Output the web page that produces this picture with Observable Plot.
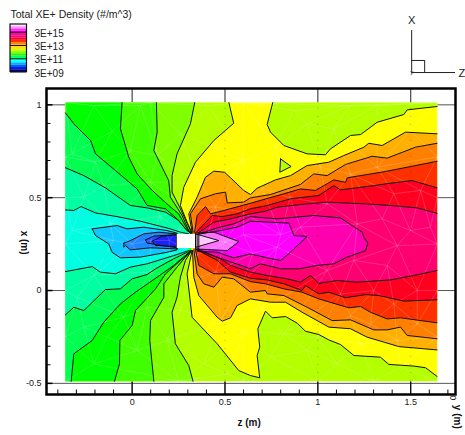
<!DOCTYPE html>
<html><head><meta charset="utf-8">
<script src="https://cdn.jsdelivr.net/npm/d3@7"></script>
<script src="https://cdn.jsdelivr.net/npm/@observablehq/plot@0.6"></script>
<style>html,body{margin:0;padding:0;background:#fff}#c{position:relative;width:465px;height:435px;overflow:hidden}#c svg{position:absolute;left:0;top:0;background:transparent}</style>
</head><body><div id="c"></div>
<script>
// domain of the computed field (z, x in metres)
const zMin=-0.359,zMax=1.643,xMin=-0.489,xMax=1.012;
const TL=[zMin,xMax],TR=[zMax,xMax],BR=[zMax,xMin],BL=[zMin,xMin];
const majorZ=[0,0.5,1,1.5],majorX=[-0.5,0,0.5,1];
const minorZ=[-0.4,-0.3,-0.2,-0.1,0.1,0.2,0.3,0.4,0.6,0.7,0.8,0.9,1.1,1.2,1.3,1.4,1.6,1.7];
const minorX=[-0.4,-0.3,-0.2,-0.1,0.1,0.2,0.3,0.4,0.6,0.7,0.8,0.9];
// contour lines: upper-left fan
const U1=[[-.359,.434],[-.314,.431],[-.275,.452],[-.197,.418],[-.081,.398],[.045,.373],[.206,.332],[.260,.314],[.305,.305]];
const U2=[[-.359,.661],[-.260,.619],[-.144,.553],[-.009,.458],[.081,.445],[.180,.422],[.251,.377],[.287,.332],[.314,.309]];
const U3=[[-.359,.957],[-.314,.898],[-.224,.808],[-.197,.736],[-.090,.646],[.027,.547],[.081,.458],[.180,.440],[.242,.386],[.296,.323],[.314,.309]];
const U4=[[-.054,1.012],[-.063,.871],[-.018,.718],[.027,.628],[.108,.539],[.197,.458],[.251,.413],[.296,.332],[.318,.309]];
const U5=[[.131,1.012],[.135,.853],[.117,.754],[.197,.592],[.206,.503],[.269,.404],[.305,.323],[.320,.309]];
const U6=[[.337,1.012],[.314,.898],[.242,.736],[.215,.619],[.215,.530],[.260,.440],[.314,.323],[.321,.309]];
const U7=[[.521,1.012],[.547,.901],[.440,.808],[.341,.691],[.278,.556],[.260,.458],[.296,.368],[.323,.309]];
// lower-left fan, bottom/left edge towards the centre
const L1=[[-.359,.102],[-.215,.129],[-.171,.099],[-.090,.090],[-.009,.126],[.081,.144],[.224,.188],[.278,.206],[.305,.215]];
const L2=[[-.359,-.131],[-.314,-.090],[-.260,-.108],[-.144,.005],[-.063,.009],[0,.063],[.081,.086],[.126,.117],[.224,.171],[.296,.206]];
const L3=[[-.328,-.489],[-.314,-.341],[-.215,-.269],[-.153,-.171],[-.063,-.072],[.018,-.009],[.135,.072],[.224,.135],[.296,.197],[.311,.215]];
const L4=[[-.095,-.489],[-.068,-.395],[-.066,-.269],[0,-.188],[.018,-.108],[.126,.009],[.180,.090],[.260,.162],[.305,.197],[.314,.215]];
const L5=[[.117,-.489],[.095,-.269],[.099,-.162],[.171,-.036],[.171,.036],[.242,.126],[.287,.180],[.318,.215]];
const L6=[[.328,-.489],[.305,-.404],[.233,-.287],[.215,-.117],[.242,-.036],[.260,.072],[.287,.162],[.320,.215]];
// lime/yellow boundary below centre, running out to the right edge
const L7=[[.323,.215],[.296,.090],[.323,-.144],[.458,-.287],[.574,-.431],[.637,-.458],[.687,-.470],[.673,-.350],[.687,-.305],[.677,-.206],[.718,-.111],[.754,-.147],[.826,-.140],[.889,-.176],[.933,-.219],[1.005,-.237],[1.059,-.266],[1.122,-.291],[1.194,-.350],[1.337,-.359],[1.382,-.398],[1.517,-.407],[1.580,-.416],[1.642,-.463]];
const limeNE=[[.757,1.012],[.727,.894],[.745,.853],[.817,.781],[.942,.736],[1.041,.731],[1.068,.763],[1.176,.835],[1.230,.840],[1.319,.906],[1.463,.948],[1.481,.973],[1.642,.991]];
const limeIsland=[[.799,.709],[.856,.668],[.795,.637],[.799,.709]];
// right side, centre to right edge
const A8u=[[.323,.314],[.305,.413],[.350,.503],[.395,.610],[.440,.643],[.497,.637],[.530,.607],[.601,.539],[.637,.517],[.673,.551],[.772,.596],[.853,.619],[.942,.673],[1.059,.691],[1.140,.727],[1.248,.772],[1.274,.793],[1.346,.781],[1.472,.853],[1.642,.844]];
const A8l=[[.325,.215],[.332,.072],[.359,-.027],[.458,-.144],[.485,-.165],[.530,-.147],[.565,-.081],[.637,-.045],[.745,-.063],[.826,-.063],[.915,-.117],[1.059,-.197],[1.176,-.206],[1.265,-.251],[1.436,-.302],[1.642,-.320]];
const A9u=[[.328,.314],[.314,.413],[.368,.494],[.449,.521],[.503,.530],[.512,.472],[.601,.476],[.637,.499],[.745,.517],[.906,.571],[.978,.628],[1.050,.619],[1.149,.679],[1.292,.723],[1.373,.713],[1.526,.772],[1.642,.793]];
const A9l=[[.332,.219],[.350,.090],[.386,.036],[.440,.018],[.485,.072],[.547,.063],[.637,-.009],[.718,0],[.727,-.018],[.817,-.027],[.942,-.090],[1.077,-.162],[1.176,-.158],[1.301,-.212],[1.373,-.212],[1.445,-.197],[1.481,-.242],[1.642,-.260]];
const A10u=[[.336,.314],[.350,.404],[.395,.452],[.422,.413],[.494,.431],[.637,.470],[.817,.521],[.906,.547],[.987,.539],[1.086,.596],[1.149,.583],[1.158,.607],[1.364,.641],[1.642,.696]];
const A10l=[[.341,.221],[.359,.135],[.440,.090],[.530,.090],[.637,.048],[.718,.036],[.817,.009],[.915,-.009],[1.005,-.045],[1.167,-.093],[1.230,-.086],[1.283,-.117],[1.373,-.153],[1.445,-.147],[1.642,-.174]];
const A11u=[[.346,.314],[.431,.404],[.485,.398],[.565,.413],[.637,.440],[.727,.458],[.853,.494],[1.005,.512],[1.086,.565],[1.122,.542],[1.301,.565],[1.391,.578],[1.508,.592],[1.642,.553]];
const A11l=[[.346,.221],[.458,.162],[.530,.099],[.637,.066],[.727,.057],[.817,.036],[.915,0],[.933,.027],[1.005,-.018],[1.059,-.009],[1.149,-.039],[1.257,-.022],[1.328,-.027],[1.463,-.057],[1.642,-.050]];
const A12u=[[.354,.309],[.440,.368],[.530,.386],[.637,.413],[.718,.427],[.781,.449],[.906,.463],[1.050,.476],[1.248,.467],[1.391,.458],[1.535,.445],[1.642,.416]];
const A12l=[[.354,.223],[.476,.171],[.530,.135],[.637,.099],[.727,.081],[.835,.063],[.906,.045],[.960,.081],[1.005,.039],[1.104,.054],[1.212,.045],[1.391,.057],[1.517,.081],[1.642,.108]];
// closed loops around the plume
const A13=[[.359,.305],[.458,.337],[.547,.359],[.637,.398],[.781,.386],[.978,.404],[1.122,.391],[1.239,.314],[1.248,.287],[1.269,.255],[1.257,.215],[1.158,.180],[1.086,.144],[.996,.135],[.898,.117],[.799,.117],[.691,.144],[.637,.117],[.500,.165],[.359,.215],[.359,.305]];
const A14=[[.350,.302],[.458,.320],[.565,.341],[.637,.373],[.844,.363],[.871,.296],[.942,.291],[.871,.224],[.853,.206],[.799,.162],[.727,.176],[.637,.197],[.547,.176],[.458,.206],[.350,.212],[.350,.302]];
const A15=[[.341,.309],[.440,.314],[.574,.264],[.512,.215],[.341,.224],[.341,.309]];
const A16=[[.341,.305],[.467,.269],[.341,.233],[.341,.305]];
// closed loops upstream of the object
const B1=[[-.215,.332],[-.081,.350],[-.027,.332],[.063,.341],[.188,.323],[.242,.309],[.242,.219],[.188,.206],[.045,.180],[-.063,.176],[-.108,.206],[-.126,.251],[-.197,.296],[-.215,.332]];
const B2=[[-.045,.255],[-.009,.269],[.063,.305],[.144,.314],[.242,.305],[.242,.224],[.099,.230],[-.009,.219],[-.036,.242],[-.045,.233],[-.045,.255]];
const B3=[[.072,.273],[.117,.293],[.242,.302],[.242,.230],[.108,.251],[.081,.255],[.072,.273]];
const B4=[[.108,.266],[.162,.293],[.242,.300],[.242,.237],[.135,.242],[.126,.242],[.108,.266]];
const boxZ=[.243,.341],boxX=[.226,.302];
// triangulation nodes of the mesh
const meshNodes=[TL,TR,BR,BL,[-.359,.72],[-.359,.5],[-.359,.25],[-.359,0],[-.359,-.25],[1.643,.72],[1.643,.5],[1.643,.25],[1.643,0],[1.643,-.25],[.25,-.489],[.6,-.489],[1.0,-.489],[1.3,-.489],[.1,1.012],[.6,1.012],[-.108,.858],[-.197,.691],[.135,.727],[-.206,.996],[.045,.996],[.413,.996],[-.323,.736],[-.260,.503],[-.153,.565],[.099,.583],[-.009,.754],[.260,.844],[.368,.574],[-.323,.323],[-.117,.359],[.942,.898],[1.085,.871],[.871,.969],[1.176,.996],[1.319,.996],[1.498,.861],[.772,.772],[1.319,.664],[1.014,.664],[1.409,.521],[1.176,.628],[1.553,.539],[1.050,.467],[1.346,.386],[1.212,.359],[1.498,.323],[1.427,.242],[1.606,.341],[.781,.233],[.906,.341],[-.206,.081],[-.296,-.036],[-.260,-.197],[-.135,-.251],[-.206,-.395],[-.045,-.144],[.027,-.323],[.188,-.269],[.081,-.090],[.260,-.108],[.386,-.395],[.476,-.162],[.510,-.449],[.996,-.251],[.817,-.233],[.942,-.323],[.745,-.359],[1.104,-.395],[1.373,.135],[1.194,.162],[1.409,-.072],[1.176,-.135],[1.283,-.180],[1.535,-.180],[1.445,-.413],[1.230,-.287],[1.427,-.269],[1.050,.108],[1.535,0],[1.301,0],[1.122,-.018],[.25,.33],[.34,.33],[.2,.27],[.4,.28],[.5,.26],[.6,.3],[.65,.2],[.2,.2],[.35,.19],[.1,.27],[0,.25],[-.1,.27],[.8,.3],[.45,.45],[.6,.42],[.3,.45],[.15,.4],[.3,.05],[.45,.1],[.6,.05],[.1,.1],[.7,.55],[.85,.5],[.6,.7],[.7,-.1],[.6,-.22]];
// colours
const colBase="#ffff00";
const fills=[
 {c:"#b4ff00",p:[...U7,...L7,BR,BL,TL]},
 {c:"#b4ff00",p:[...limeNE,TR]},
 {c:"#b4ff00",p:limeIsland},
 {c:"#80ff00",p:[...U6,...[...L6].reverse(),BL,TL]},
 {c:"#40ff00",p:[...U5,...[...L5].reverse(),BL,TL]},
 {c:"#00ff00",p:[...U4,...[...L4].reverse(),BL,TL]},
 {c:"#00ff50",p:[...U3,...[...L3].reverse(),BL]},
 {c:"#00ffa0",p:[...U2,...[...L2].reverse()]},
 {c:"#00ffe0",p:[...U1,...[...L1].reverse()]},
 {c:"#10c8ff",p:B1},{c:"#2088ff",p:B2},{c:"#2050ff",p:B3},{c:"#2020ff",p:B4},
 {c:"#ffb000",p:[...A8u,...[...A8l].reverse()]},
 {c:"#ff8000",p:[...A9u,...[...A9l].reverse()]},
 {c:"#ff3000",p:[...A10u,...[...A10l].reverse()]},
 {c:"#ff0020",p:[...A11u,...[...A11l].reverse()]},
 {c:"#ff0070",p:[...A12u,...[...A12l].reverse()]},
 {c:"#ff00b0",p:A13},{c:"#ff00ff",p:A14},{c:"#ff70ff",p:A15},{c:"#ffc8ff",p:A16}
];
const lines=[U1,U2,U3,U4,U5,U6,U7,L1,L2,L3,L4,L5,L6,L7,limeNE,limeIsland,A8u,A8l,A9u,A9l,A10u,A10l,A11u,A11l,A12u,A12l,A13,A14,A15,A16,B1,B2,B3,B4];
const gx=d=>d[0],gy=d=>d[1];
const font="'Liberation Sans',Arial,sans-serif";
const frameZ=[-.461,1.741],frameX=[-.56,1.088];
const main=Plot.plot({
 width:465,height:435,marginLeft:46,marginRight:10,marginTop:88,marginBottom:41,
 style:{fontFamily:font,fontSize:"9px",background:"transparent",color:"#222"},
 x:{domain:frameZ,axis:null},y:{domain:frameX,axis:null},
 marks:[
  Plot.ruleX(majorZ,{stroke:"#222",strokeWidth:1}),
  Plot.ruleY(majorX,{stroke:"#555",strokeWidth:1}),
  Plot.ruleX(majorZ,{y1:frameX[0],y2:frameX[0]+.07,stroke:"#000",strokeWidth:1}),
  Plot.ruleX(minorZ,{y1:frameX[0],y2:frameX[0]+.024,stroke:"#000",strokeWidth:1}),
  Plot.ruleY(majorX,{x1:frameZ[0],x2:frameZ[0]+.035,stroke:"#000",strokeWidth:1.5}),
  Plot.ruleY(minorX,{x1:frameZ[0],x2:frameZ[0]+.024,stroke:"#000",strokeWidth:1}),
  Plot.line([TL,TR,BR,BL],{x:gx,y:gy,fill:colBase,stroke:"none"}),
  ...fills.map(f=>Plot.line(f.p,{x:gx,y:gy,fill:f.c,stroke:"none"})),
  Plot.delaunayMesh(meshNodes,{x:gx,y:gy,stroke:"#fff",strokeOpacity:.22,strokeWidth:.8}),
  Plot.ruleX(majorZ.slice(1),{y1:xMin,y2:xMax,stroke:"#000",strokeOpacity:.3,strokeDasharray:"1 7"}),
  ...lines.map(l=>Plot.line(l,{x:gx,y:gy,stroke:"#111",strokeWidth:1,strokeLinejoin:"round"})),
  Plot.rect([0],{x1:boxZ[0],x2:boxZ[1],y1:boxX[0],y2:boxX[1],fill:"#fff"}),
  Plot.frame({stroke:"#000",strokeWidth:2.5}),
  Plot.axisX(majorZ,{anchor:"bottom",tickSize:0,tickPadding:4,label:null,tickFormat:d=>String(d),fontSize:9}),
  Plot.axisY(majorX,{anchor:"left",tickSize:0,tickPadding:5,label:null,tickFormat:d=>String(d),fontSize:9}),
  Plot.text(["z (m)"],{x:[.63],y:[-.712],fontWeight:"bold",fontSize:10,fill:"#111"}),
  Plot.text(["x (m)"],{x:[-.58],y:[.258],rotate:90,fontWeight:"bold",fontSize:10,fill:"#111"}),
  Plot.text(["y (m)"],{x:[1.752],y:[-.68],rotate:90,fontWeight:"bold",fontSize:10,fill:"#111"}),
  Plot.text(["0"],{x:[1.725],y:[-.577],rotate:90,fontSize:9,fill:"#222"}),
  // orientation triad
  Plot.ruleX([1.505],{y1:1.174,y2:1.40,stroke:"#222",strokeWidth:1}),
  Plot.ruleY([1.174],{x1:1.505,x2:1.741,stroke:"#222",strokeWidth:1}),
  Plot.ruleX([1.575],{y1:1.174,y2:1.239,stroke:"#222",strokeWidth:1}),
  Plot.ruleY([1.239],{x1:1.505,x2:1.575,stroke:"#222",strokeWidth:1}),
  Plot.text(["X"],{x:[1.505],y:[1.453],fontSize:11,fill:"#222"}),
  Plot.text(["Z"],{x:[1.775],y:[1.17],fontSize:11,fill:"#222"}),
  Plot.text(["y"],{x:[1.505],y:[1.175],fontSize:6,fill:"#222"})
 ]
});
// legend
const legendColors=["#ffe8ff","#ff90ff","#ff20ff","#ff00d0","#ff00a0","#ff0070","#ff0030","#ff3000","#ff8000","#ffb000","#ffe000","#d0ff00","#80ff00","#20ff00","#00ff60","#00ffb0","#00ffff","#00b0ff","#0060ff","#0020e0","#000090"];
const legendExp=[15.477,13.477,11.477,9.477];
const legendLabels=["3E+15","3E+13","3E+11","3E+09"];
const legendTop=16.64,legendBottom=9.477;
const step=(legendTop-legendBottom)/legendColors.length;
const legendCells=legendColors.map((c,i)=>({c,hi:legendTop-i*step,lo:legendTop-(i+1)*step}));
const legend=Plot.plot({
 width:140,height:80,margin:0,
 style:{fontFamily:font,background:"transparent",color:"#222"},
 x:{domain:[0,1],range:[10,26.5],axis:null},
 y:{domain:[legendBottom,legendTop],range:[71.5,24],axis:null},
 marks:[
  Plot.rect(legendCells,{x1:0,x2:1,y1:"lo",y2:"hi",fill:"c"}),
  Plot.ruleY(legendExp,{x1:0,x2:1,stroke:"#111",strokeWidth:1}),
  Plot.rect([0],{x1:0,x2:1,y1:legendBottom,y2:legendTop,stroke:"#111",strokeWidth:1.2,fill:"none"}),
  Plot.text(legendLabels,{x:1,y:(d,i)=>legendExp[i],dx:7.5,dy:1.5,textAnchor:"start",fontSize:10,fill:"#222"}),
  Plot.text(["Total XE+ Density (#/m^3)"],{x:0,y:[legendTop],dy:-10,textAnchor:"start",fontSize:10.5,fill:"#222"})
 ]
});
const c=document.getElementById("c");c.append(main,legend);
</script></body></html>
